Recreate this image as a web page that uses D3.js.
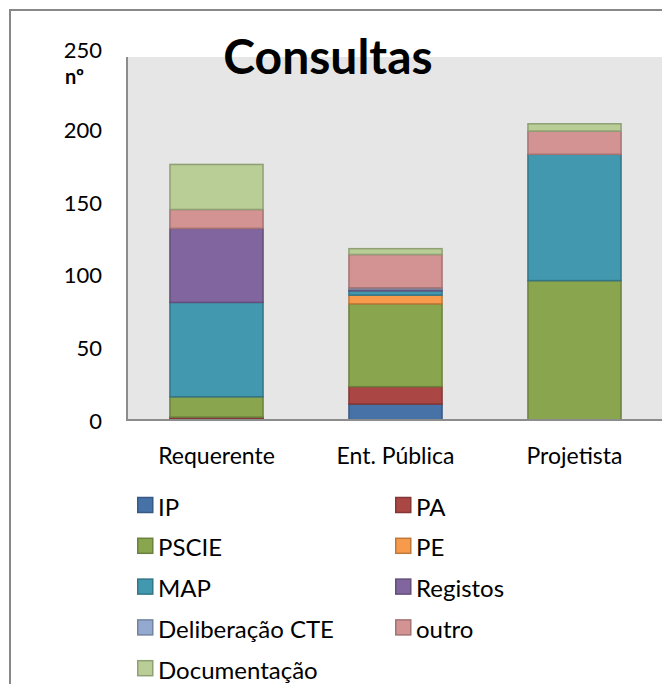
<!DOCTYPE html>
<html>
<head>
<meta charset="utf-8">
<script src="https://cdn.jsdelivr.net/npm/d3@7"></script>
<style>
    html, body { margin: 0; padding: 0; background: #fff; }
    svg { display: block; font-family: Lato, "Open Sans", sans-serif; }
    .tick_value_y { font-size: 22px; fill: #000; text-anchor: end; dominant-baseline: central; }
    .cat_label { font-size: 23px; fill: #000; text-anchor: middle; dominant-baseline: central; }
    .legend_text { font-size: 24px; fill: #000; dominant-baseline: central; }
    .title { font-size: 48px; font-weight: bold; text-anchor: middle; }
    .axis_title { font-size: 20px; font-weight: bold; }
    .axis_line { stroke: #8c8c8c; stroke-width: 2; fill: none; }
</style>
</head>
<body>
<svg id="graph" width="662" height="684"></svg>
<script>
let categories = ["Requerente", "Ent. Pública", "Projetista"];
let series_names = ["IP", "PA", "PSCIE", "PE", "MAP", "Registos", "Deliberação CTE", "outro", "Documentação"];
let series_colors = ["#4672A8", "#AA4643", "#89A54E", "#F79A4B", "#4198AF", "#80659E", "#94A9CF", "#D39392", "#B9CD96"];

let ip = [1, 11, 0];
let pa = [1, 12, 0];
let pscie = [14, 57, 96];
let pe = [0, 6, 0];
let map = [65, 3, 87];
let registos = [51, 1, 0];
let deliberacao = [0, 1, 0];
let outro = [13, 23, 16];
let documentacao = [31, 4, 5];

let y_ticks = [0, 50, 100, 150, 200, 250];

let series_values = [ip, pa, pscie, pe, map, registos, deliberacao, outro, documentacao];

// table for d3.stack
let table = categories.map((c, i) => {
    let row = {cat: c};
    series_names.forEach((s, j) => row[s] = series_values[j][i]);
    return row;
});

let svg = d3.select("#graph");

let plot_left = 127, plot_right = 664, plot_top = 57, plot_bottom = 420;

let yScale = d3.scaleLinear()
    .domain([0, 250])
    .range([plot_bottom, plot_top]);

let xScale = d3.scaleBand()
    .domain(categories)
    .range([plot_left, plot_right])
    .paddingInner(0.48)
    .paddingOuter(0.24);

let color = d3.scaleOrdinal()
    .domain(series_names)
    .range(series_colors);

// outer chart border (only top and left are inside the picture)
svg.append("path")
    .attr("d", "M10,684 L10,10 L662,10")
    .attr("fill", "none")
    .attr("stroke", "#888")
    .attr("stroke-width", 2);

// plot area
svg.append("rect")
    .attr("x", plot_left)
    .attr("y", plot_top)
    .attr("width", plot_right - plot_left)
    .attr("height", plot_bottom - plot_top)
    .attr("fill", "#E6E6E6");

let stacked = d3.stack()
    .keys(series_names)(table);

svg.append("g")
    .selectAll("g")
    .data(stacked)
    .enter()
    .append("g")
    .attr("fill", d => color(d.key))
    .attr("stroke", d => d3.color(color(d.key)).darker(0.7))
    .attr("stroke-width", 1.5)
    .selectAll("rect")
    .data(d => d)
    .enter()
    .append("rect")
    .attr("x", d => xScale(d.data.cat))
    .attr("width", xScale.bandwidth())
    .attr("y", d => yScale(d[1]))
    .attr("height", d => yScale(d[0]) - yScale(d[1]));

// axes lines
svg.append("path")
    .attr("d", `M${plot_left},${plot_top} L${plot_left},${plot_bottom} L${plot_right},${plot_bottom}`)
    .attr("class", "axis_line");

svg.append("g")
    .selectAll(".tick_value_y")
    .data(y_ticks)
    .enter()
    .append("text")
    .text(d => d)
    .attr("x", 102)
    .attr("y", d => yScale(d) - (d === 250 ? 8 : 0))
    .attr("class", "tick_value_y");

svg.append("text")
    .text("nº")
    .attr("x", 65)
    .attr("y", 84)
    .attr("class", "axis_title");

svg.append("g")
    .selectAll(".cat_label")
    .data(categories)
    .enter()
    .append("text")
    .text(d => d)
    .attr("x", d => xScale(d) + xScale.bandwidth() / 2)
    .attr("y", 455)
    .attr("class", "cat_label");

svg.append("text")
    .text("Consultas")
    .attr("x", 328)
    .attr("y", 74)
    .attr("class", "title");

// legend, two columns
let legend = svg.append("g")
    .selectAll(".legend_item")
    .data(series_names)
    .enter()
    .append("g")
    .attr("class", "legend_item")
    .attr("transform", (d, i) => `translate(${i % 2 ? 395 : 137},${505 + Math.floor(i / 2) * 40.8})`);

legend.append("rect")
    .attr("x", 0.75)
    .attr("y", -7.5)
    .attr("width", 15)
    .attr("height", 15)
    .attr("fill", d => color(d))
    .attr("stroke", d => d3.color(color(d)).darker(0.7))
    .attr("stroke-width", 1.5);

legend.append("text")
    .text(d => d)
    .attr("x", 21)
    .attr("y", 1)
    .attr("class", "legend_text");
</script>
</body>
</html>
